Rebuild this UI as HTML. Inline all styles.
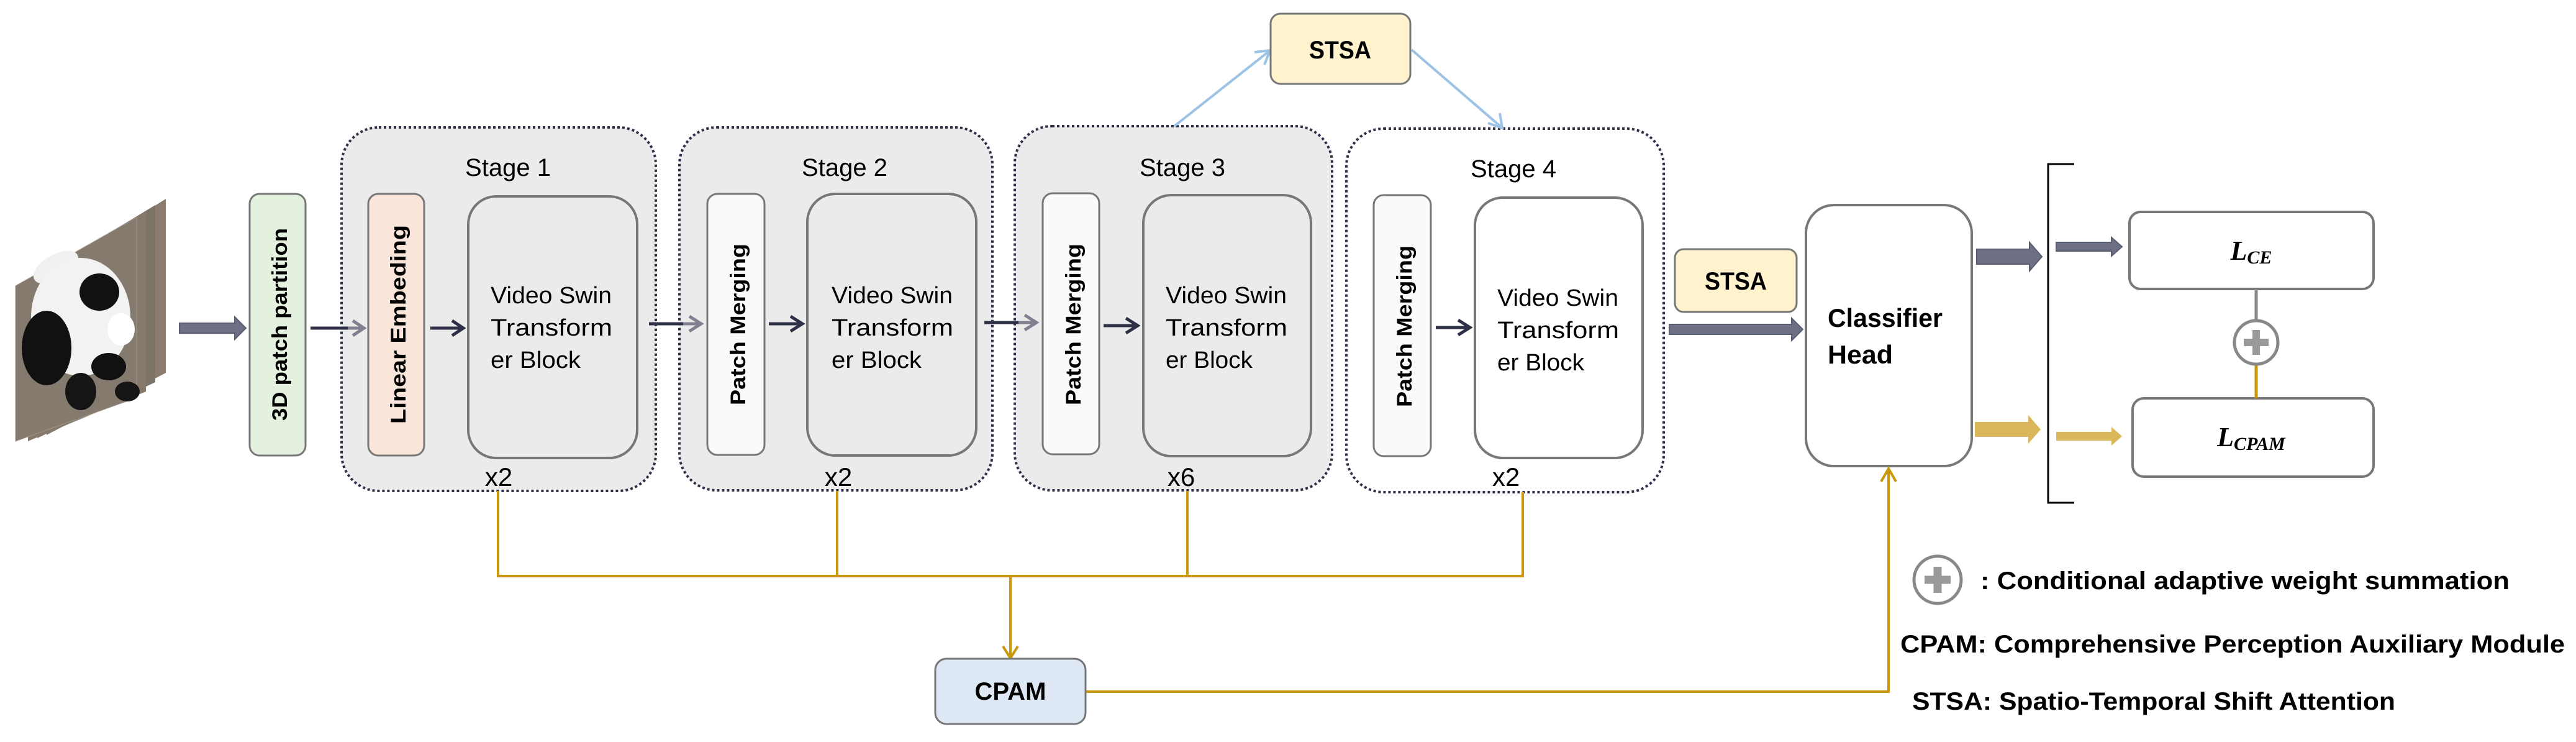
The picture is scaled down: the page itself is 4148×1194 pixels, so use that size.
<!DOCTYPE html>
<html><head><meta charset="utf-8"><style>html,body{margin:0;padding:0;background:#fff}svg{display:block}</style></head>
<body>
<svg width="4148" height="1194" viewBox="0 0 4148 1194" xmlns="http://www.w3.org/2000/svg" font-family="'Liberation Sans', sans-serif">
<!-- panda frames -->
<g>
<polygon points="75,440 267,320 267,600 75,700" fill="#8a7d70"/>
<polygon points="60,445 250,330 250,615 60,705" fill="#7d7468"/>
<polygon points="45,450 235,340 235,630 45,710" fill="#85796c"/>
<polygon points="25,460 220,350 220,640 25,710" fill="#857a6e"/>
<polygon points="25,460 220,350 220,640 25,710" fill="none" stroke="#a0978a" stroke-width="1"/>
<ellipse cx="90" cy="430" rx="40" ry="20" fill="#f0f0f0" transform="rotate(-30 90 430)"/>
<ellipse cx="130" cy="510" rx="80" ry="95" fill="#f2f2f2"/>
<ellipse cx="160" cy="470" rx="32" ry="30" fill="#111"/>
<ellipse cx="195" cy="530" rx="22" ry="26" fill="#fff"/>
<ellipse cx="175" cy="590" rx="28" ry="22" fill="#111"/>
<ellipse cx="75" cy="560" rx="40" ry="60" fill="#111"/>
<ellipse cx="130" cy="630" rx="25" ry="30" fill="#151515"/>
<ellipse cx="205" cy="630" rx="20" ry="16" fill="#151515"/>
</g>
<!-- big arrow panda -> 3D -->
<polygon points="289,520 378,520 378,510 396,528 378,546 378,536 289,536" fill="#6d7085" stroke="#5a5d70" stroke-width="2"/>
<!-- 3D patch partition -->
<rect x="402" y="312" width="90" height="421" rx="16" fill="#e5f1df" stroke="#777" stroke-width="3"/>
<text transform="translate(462,522) rotate(-90)" text-anchor="middle" font-size="34" font-weight="bold" textLength="310" lengthAdjust="spacingAndGlyphs">3D patch partition</text>

<!-- Stages -->
<g fill="#ebebeb" stroke="#2e3047" stroke-width="4" stroke-dasharray="4,4">
<rect x="550" y="205" width="506" height="585" rx="60"/>
<rect x="1094" y="205" width="504" height="584" rx="60"/>
<rect x="1634" y="203" width="511" height="586" rx="60"/>
<rect x="2168" y="207" width="511" height="585" rx="60" fill="#fff"/>
</g>
<g font-size="40" text-anchor="middle">
<text x="818" y="283">Stage 1</text>
<text x="1360" y="283">Stage 2</text>
<text x="1904" y="283">Stage 3</text>
<text x="2437" y="285">Stage 4</text>
</g>
<!-- inner narrow boxes -->
<rect x="593" y="312" width="90" height="421" rx="16" fill="#f9e5da" stroke="#777" stroke-width="3"/>
<text transform="translate(653,522) rotate(-90)" text-anchor="middle" font-size="34" font-weight="bold" textLength="320" lengthAdjust="spacingAndGlyphs">Linear Embeding</text>
<rect x="1139" y="312" width="92" height="420" rx="16" fill="#fafafa" stroke="#777" stroke-width="3"/>
<text transform="translate(1200,522) rotate(-90)" text-anchor="middle" font-size="34" font-weight="bold" textLength="260" lengthAdjust="spacingAndGlyphs">Patch Merging</text>
<rect x="1679" y="311" width="91" height="420" rx="16" fill="#fafafa" stroke="#777" stroke-width="3"/>
<text transform="translate(1740,522) rotate(-90)" text-anchor="middle" font-size="34" font-weight="bold" textLength="260" lengthAdjust="spacingAndGlyphs">Patch Merging</text>
<rect x="2212" y="314" width="92" height="420" rx="16" fill="#fafafa" stroke="#777" stroke-width="3"/>
<text transform="translate(2273,525) rotate(-90)" text-anchor="middle" font-size="34" font-weight="bold" textLength="260" lengthAdjust="spacingAndGlyphs">Patch Merging</text>
<!-- VST blocks -->
<g stroke="#777" stroke-width="4">
<rect x="754" y="316" width="272" height="421" rx="45" fill="#ebebeb"/>
<rect x="1300" y="312" width="272" height="421" rx="45" fill="#ebebeb"/>
<rect x="1841" y="314" width="270" height="420" rx="45" fill="#ebebeb"/>
<rect x="2375" y="318" width="270" height="419" rx="45" fill="#fff"/>
</g>
<g font-size="38">
<text x="790" y="488" textLength="195" lengthAdjust="spacingAndGlyphs">Video Swin</text>
<text x="790" y="540" textLength="196" lengthAdjust="spacingAndGlyphs">Transform</text>
<text x="790" y="592" textLength="145" lengthAdjust="spacingAndGlyphs">er Block</text>
<text x="1339" y="488" textLength="195" lengthAdjust="spacingAndGlyphs">Video Swin</text>
<text x="1339" y="540" textLength="196" lengthAdjust="spacingAndGlyphs">Transform</text>
<text x="1339" y="592" textLength="145" lengthAdjust="spacingAndGlyphs">er Block</text>
<text x="1877" y="488" textLength="195" lengthAdjust="spacingAndGlyphs">Video Swin</text>
<text x="1877" y="540" textLength="196" lengthAdjust="spacingAndGlyphs">Transform</text>
<text x="1877" y="592" textLength="140" lengthAdjust="spacingAndGlyphs">er Block</text>
<text x="2411" y="492" textLength="195" lengthAdjust="spacingAndGlyphs">Video Swin</text>
<text x="2411" y="544" textLength="196" lengthAdjust="spacingAndGlyphs">Transform</text>
<text x="2411" y="596" textLength="140" lengthAdjust="spacingAndGlyphs">er Block</text>
</g>
<g font-size="42" text-anchor="middle">
<text x="803" y="782">x2</text>
<text x="1350" y="782">x2</text>
<text x="1902" y="782">x6</text>
<text x="2425" y="782">x2</text>
</g>
<!-- small arrows -->
<g stroke="#2e3047" stroke-width="5" fill="none">
<line x1="500" y1="528" x2="560" y2="528"/>
<line x1="1045" y1="521" x2="1100" y2="521"/>
<line x1="1585" y1="519" x2="1640" y2="519"/>
<line x1="693" y1="528" x2="745" y2="528"/><path d="M728,516 L746,528 L728,540"/>
<line x1="1238" y1="521" x2="1290" y2="521"/><path d="M1273,509 L1292,521 L1273,533"/>
<line x1="1777" y1="524" x2="1830" y2="524"/><path d="M1813,512 L1832,524 L1813,536"/>
<line x1="2312" y1="527" x2="2365" y2="527"/><path d="M2348,515 L2367,527 L2348,539"/>
</g>
<g stroke="#808090" stroke-width="5" fill="none">
<line x1="560" y1="528" x2="585" y2="528"/><path d="M568,516 L586,528 L568,540"/>
<line x1="1100" y1="521" x2="1128" y2="521"/><path d="M1110,509 L1129,521 L1110,533"/>
<line x1="1640" y1="519" x2="1668" y2="519"/><path d="M1650,507 L1669,519 L1650,531"/>
</g>
<!-- top STSA -->
<g stroke="#9cc3e5" stroke-width="4" fill="none">
<line x1="1891" y1="203" x2="2044" y2="82"/><path d="M2020,84 L2045,81 L2036,104"/>
<line x1="2273" y1="80" x2="2418" y2="205"/><path d="M2396,198 L2419,206 L2415,182"/>
</g>
<rect x="2046" y="22" width="225" height="113" rx="16" fill="#fff2cc" stroke="#777" stroke-width="3"/>
<text x="2158" y="94" text-anchor="middle" font-size="40" font-weight="bold" textLength="100" lengthAdjust="spacingAndGlyphs">STSA</text>
<!-- second STSA -->
<rect x="2697" y="401" width="196" height="101" rx="14" fill="#fff2cc" stroke="#777" stroke-width="3"/>
<text x="2795" y="466" text-anchor="middle" font-size="40" font-weight="bold" textLength="100" lengthAdjust="spacingAndGlyphs">STSA</text>
<polygon points="2688,522 2885,522 2885,512 2903,530 2885,548 2885,538 2688,538" fill="#6d7085" stroke="#5a5d70" stroke-width="2"/>
<!-- classifier head -->
<rect x="2908" y="330" width="267" height="420" rx="45" fill="#fff" stroke="#777" stroke-width="4"/>
<text x="2943" y="526" font-size="42" font-weight="bold" textLength="185" lengthAdjust="spacingAndGlyphs">Classifier</text>
<text x="2943" y="585" font-size="42" font-weight="bold" textLength="105" lengthAdjust="spacingAndGlyphs">Head</text>
<!-- output arrows -->
<polygon points="3183,401 3268,401 3268,390 3288,413 3268,436 3268,425 3183,425" fill="#6d7085" stroke="#5a5d70" stroke-width="2"/>
<polygon points="3311,390 3400,390 3400,382 3417,397 3400,412 3400,404 3311,404" fill="#6d7085" stroke="#5a5d70" stroke-width="2"/>
<polygon points="3180,679 3266,679 3266,668 3286,691 3266,714 3266,703 3180,703" fill="#d9b75a"/>
<polygon points="3311,695 3400,695 3400,687 3417,702 3400,717 3400,709 3311,709" fill="#d9b75a"/>
<!-- bracket -->
<path d="M3340,264 L3298,264 L3298,809 L3340,809" fill="none" stroke="#000" stroke-width="3"/>
<!-- loss boxes -->
<rect x="3429" y="341" width="393" height="124" rx="18" fill="#fff" stroke="#777" stroke-width="4"/>
<text x="3625" y="418" text-anchor="middle" font-family="'Liberation Serif', serif" font-style="italic" font-weight="bold" font-size="44">L<tspan font-size="30" dy="6">CE</tspan></text>
<rect x="3434" y="641" width="388" height="126" rx="18" fill="#fff" stroke="#777" stroke-width="4"/>
<text x="3625" y="718" text-anchor="middle" font-family="'Liberation Serif', serif" font-style="italic" font-weight="bold" font-size="44">L<tspan font-size="30" dy="6">CPAM</tspan></text>
<line x1="3633" y1="465" x2="3633" y2="515" stroke="#888" stroke-width="5"/>
<line x1="3633" y1="588" x2="3633" y2="641" stroke="#c9970a" stroke-width="5"/>
<circle cx="3633" cy="551" r="35" fill="#fff" stroke="#888" stroke-width="5"/>
<path d="M3633,531 V571 M3613,551 H3653" stroke="#999" stroke-width="12"/>
<!-- gold network -->
<g stroke="#c9970a" stroke-width="4" fill="none">
<line x1="802" y1="790" x2="802" y2="927"/>
<line x1="1348" y1="790" x2="1348" y2="927"/>
<line x1="1912" y1="790" x2="1912" y2="927"/>
<line x1="2452" y1="792" x2="2452" y2="927"/>
<line x1="800" y1="927" x2="2454" y2="927"/>
<line x1="1627" y1="927" x2="1627" y2="1058"/>
<path d="M1615,1040 L1627,1059 L1639,1040"/>
<polyline points="1748,1113 3041,1113 3041,754"/>
<path d="M3029,775 L3041,754 L3053,775"/>
</g>
<rect x="1506" y="1060" width="242" height="105" rx="18" fill="#dee8f4" stroke="#777" stroke-width="3"/>
<text x="1627" y="1126" text-anchor="middle" font-size="40" font-weight="bold" textLength="115" lengthAdjust="spacingAndGlyphs">CPAM</text>
<!-- legend -->
<circle cx="3120" cy="933" r="38" fill="#fff" stroke="#888" stroke-width="5"/>
<path d="M3120,912 V954 M3099,933 H3141" stroke="#999" stroke-width="13"/>
<g font-size="40" font-weight="bold">
<text x="3189" y="948" textLength="852" lengthAdjust="spacingAndGlyphs">: Conditional adaptive weight summation</text>
<text x="3060" y="1050" textLength="1070" lengthAdjust="spacingAndGlyphs">CPAM: Comprehensive Perception Auxiliary Module</text>
<text x="3079" y="1142" textLength="778" lengthAdjust="spacingAndGlyphs">STSA: Spatio-Temporal Shift Attention</text>
</g>
</svg>
</body></html>
